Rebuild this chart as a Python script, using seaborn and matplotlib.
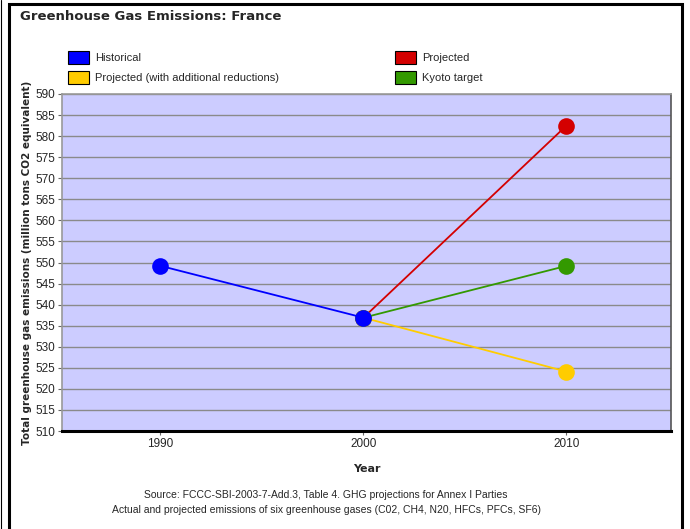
import pandas as pd
import matplotlib.pyplot as plt
import seaborn as sns
from matplotlib.patches import Rectangle
from matplotlib.lines import Line2D

# values (million tons CO2 equivalent)
historical_years = [1990, 2000]
historical_values = [549.2, 536.9]
projected_years = [2000, 2010]
projected_values = [536.9, 582.5]
reduced_years = [2000, 2010]
reduced_values = [536.9, 524.1]
kyoto_years = [2000, 2010]
kyoto_values = [536.9, 549.2]

series_names = ["Historical", "Projected",
                "Projected (with additional reductions)", "Kyoto target"]
series_colors = {"Historical": "#0000ff", "Projected": "#d40000",
                 "Projected (with additional reductions)": "#ffcc00",
                 "Kyoto target": "#339900"}

frames = []
for name, yrs, vals in zip(series_names,
                           [historical_years, projected_years, reduced_years, kyoto_years],
                           [historical_values, projected_values, reduced_values, kyoto_values]):
    frames.append(pd.DataFrame({"Year": yrs, "Emissions": vals, "Series": name}))
df = pd.concat(frames, ignore_index=True)

sns.set_style("white")
plt.rcParams["font.family"] = ["Liberation Sans", "DejaVu Sans"]

fig = plt.figure(figsize=(6.9, 5.29), dpi=100)
ax = fig.add_axes([62 / 690, 1 - 431 / 529, 609 / 690, 337 / 529])
ax.set_facecolor("#ccccff")

# draw projections first so the historical point sits on top
draw_order = ["Projected", "Projected (with additional reductions)", "Kyoto target", "Historical"]
sns.lineplot(data=df, x="Year", y="Emissions", hue="Series", hue_order=draw_order,
             palette=series_colors, marker="o", markersize=12, markeredgewidth=0,
             linewidth=1.3, legend=False, ax=ax, zorder=3)

ax.set_xlim(1985.15, 2015.15)
ax.set_ylim(510, 590)
ax.set_xticks([1990, 2000, 2010])
ax.set_yticks(range(510, 591, 5))
ax.yaxis.grid(True, color="#8a8a8a", linewidth=1.0)
ax.set_axisbelow(True)
ax.tick_params(axis="both", labelsize=8.5, length=3, width=0.8, color="#666666",
               direction="out", pad=2, left=True, bottom=True)

for side in ["top", "left"]:
    ax.spines[side].set_color("#999999")
    ax.spines[side].set_linewidth(1.2)
ax.spines["right"].set_color("#555555")
ax.spines["right"].set_linewidth(1.2)
ax.spines["bottom"].set_color("black")
ax.spines["bottom"].set_linewidth(2.2)

ax.set_xlabel("Year", fontsize=8, fontweight="bold", family="DejaVu Sans", labelpad=10)
ax.set_ylabel("Total greenhouse gas emissions (million tons CO2 equivalent)",
              fontsize=7.5, fontweight="bold", family="DejaVu Sans", labelpad=2)

# title and source notes
fig.text(20 / 690, 1 - 16 / 529, "Greenhouse Gas Emissions: France", fontsize=9.5,
         fontweight="bold", family="DejaVu Sans", va="center", ha="left")
fig.text(326 / 690, 1 - 495 / 529,
         "Source: FCCC-SBI-2003-7-Add.3, Table 4. GHG projections for Annex I Parties",
         fontsize=7.5, ha="center", va="center")
fig.text(326 / 690, 1 - 510 / 529,
         "Actual and projected emissions of six greenhouse gases (C02, CH4, N20, HFCs, PFCs, SF6)",
         fontsize=7.5, ha="center", va="center")

# legend: two columns of colored boxes
legend_items = [("Historical", 68, 58), ("Projected", 395, 58),
                ("Projected (with additional reductions)", 68, 78), ("Kyoto target", 395, 78)]
for name, px, py in legend_items:
    fig.patches.append(Rectangle((px / 690, 1 - (py + 6) / 529), 21 / 690, 13 / 529,
                                 transform=fig.transFigure, facecolor=series_colors[name],
                                 edgecolor="black", linewidth=0.8))
    fig.text((px + 27) / 690, 1 - py / 529, name, fontsize=8, va="center", ha="left")

# outer frame
fig.patches.append(Rectangle((9 / 690, -0.05), 673 / 690, 1.05 - 4 / 529,
                             transform=fig.transFigure, fill=False,
                             edgecolor="black", linewidth=2.2))
fig.lines.append(Line2D([0.7 / 690, 0.7 / 690], [0, 1], transform=fig.transFigure,
                        color="black", linewidth=0.8))

fig.savefig("out.png", dpi=100)
